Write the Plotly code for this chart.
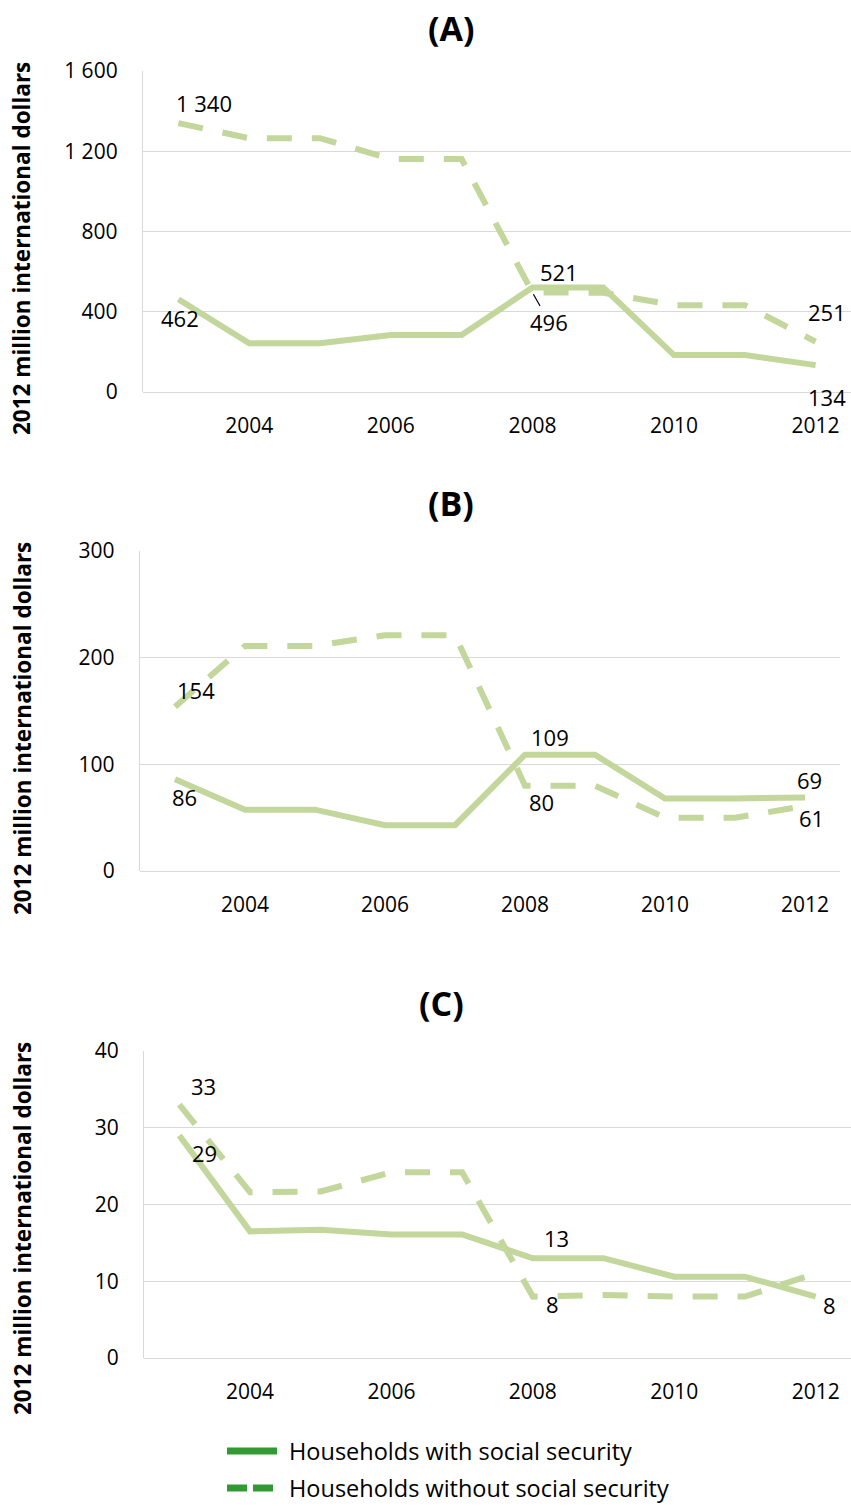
import plotly.graph_objects as go

# Years covered by every panel
years = [2003, 2004, 2005, 2006, 2007, 2008, 2009, 2010, 2011, 2012]

# (A) spending, 2012 million international dollars
a_with = [462, 243, 243, 284, 284, 521, 521, 184, 184, 134]
a_without = [1340, 1265, 1265, 1161, 1161, 496, 495, 433, 433, 251]

# (B)
b_with = [86, 57.5, 57.5, 43, 43, 109, 109, 68, 68, 69]
b_without = [154, 211, 211, 221, 221, 80, 80, 50, 50, 61]

# (C)
c_with = [29, 16.5, 16.7, 16.1, 16.1, 13, 13, 10.6, 10.6, 8]
c_without = [33, 21.6, 21.7, 24.2, 24.2, 8, 8.2, 8.0, 8.0, 11.0]

panel_titles = ["(A)", "(B)", "(C)"]
series_names = ["Households with social security", "Households without social security"]
y_title = "2012 million international dollars"
y_ranges = [[0, 1600], [0, 300], [0, 40]]
y_dticks = [400, 100, 10]
x_ticks = [2004, 2006, 2008, 2010, 2012]

# Labelled points: (panel, series, year, xshift, yshift, leader line)
labelled = [
    (0, 1, 2003, 26, 20, False), (0, 0, 2003, 2, -19, False),
    (0, 0, 2008, 27, 15, False), (0, 1, 2008, 17, -30, True),
    (0, 1, 2012, 11, 30, False), (0, 0, 2012, 11, -32, False),
    (1, 1, 2003, 21, 17, False), (1, 0, 2003, 9, -18, False),
    (1, 0, 2008, 25, 18, False), (1, 1, 2008, 16, -16, False),
    (1, 0, 2012, 4, 17, False), (1, 1, 2012, 6, -12, False),
    (2, 1, 2003, 24, 19, False), (2, 0, 2003, 25, -18, False),
    (2, 0, 2008, 24, 20, False), (2, 1, 2008, 20, -7, False),
    (2, 0, 2012, 14, -8, False),
]

W, H = 851, 1506
LINE = "#c3d69b"
KEY = "#339933"
GRID = "#d9d9d9"
FONT = "Open Sans"

# plot areas in pixels: (left, right, top, bottom)
areas = [(143, 851, 71, 392), (140, 840, 551, 871), (144, 851, 1051, 1358)]
title_pos = [(452, 28), (451, 503), (442, 1003)]
ytitle_y = [249, 729, 1229]

data = [(a_with, a_without), (b_with, b_without), (c_with, c_without)]


def fmt(v):
    return f"{v:,.0f}".replace(",", " ")


fig = go.Figure()
layout = dict(
    width=W, height=H,
    margin=dict(l=0, r=0, t=0, b=0, pad=0, autoexpand=False),
    paper_bgcolor="white", plot_bgcolor="white", showlegend=False,
    separators=". ", font=dict(family=FONT, size=21, color="black"),
)
annotations = []
shapes = []

for i, (l, r, t, b) in enumerate(areas):
    sfx = "" if i == 0 else str(i + 1)
    xa, ya = "x" + sfx, "y" + sfx
    layout["xaxis" + sfx] = dict(
        domain=[l / W, r / W], anchor=ya, range=[2002.5, 2012.5],
        tickvals=x_ticks, showgrid=False, zeroline=False, showline=False,
        ticks="", ticklabelstandoff=19, tickfont=dict(size=21, color="black"),
        automargin=False, fixedrange=True,
    )
    layout["yaxis" + sfx] = dict(
        domain=[1 - b / H, 1 - t / H], anchor=xa, range=y_ranges[i],
        dtick=y_dticks[i], tick0=0, separatethousands=True,
        showgrid=True, gridcolor=GRID, gridwidth=1.3,
        zeroline=True, zerolinecolor=GRID, zerolinewidth=1.3,
        showline=True, linecolor=GRID, linewidth=1.3,
        ticks="", ticklabelstandoff=20, tickfont=dict(size=21, color="black"),
        automargin=False, fixedrange=True,
    )
    with_vals, without_vals = data[i]
    fig.add_trace(go.Scatter(
        x=years, y=without_vals, mode="lines", name=series_names[1],
        line=dict(color=LINE, width=6, dash="25px,20px"),
        xaxis=xa, yaxis=ya, hoverinfo="skip",
    ))
    fig.add_trace(go.Scatter(
        x=years, y=with_vals, mode="lines", name=series_names[0],
        line=dict(color=LINE, width=6),
        xaxis=xa, yaxis=ya, hoverinfo="skip",
    ))
    tx, ty = title_pos[i]
    annotations.append(dict(
        text=f"<b>{panel_titles[i]}</b>", x=tx / W, y=1 - ty / H,
        xref="paper", yref="paper", showarrow=False,
        xanchor="center", yanchor="middle", font=dict(size=34, color="black"),
    ))
    annotations.append(dict(
        text=f"<b>{y_title}</b>", x=22 / W, y=1 - ytitle_y[i] / H,
        xref="paper", yref="paper", showarrow=False, textangle=-90,
        xanchor="center", yanchor="middle", font=dict(size=22.5, color="black"),
    ))

for panel, series, yr, dx, dy, leader in labelled:
    sfx = "" if panel == 0 else str(panel + 1)
    val = data[panel][series][years.index(yr)]
    ann = dict(
        text=fmt(val), x=yr, y=val, xref="x" + sfx, yref="y" + sfx,
        font=dict(size=22, color="black"),
    )
    if leader:
        ann.update(showarrow=True, arrowhead=0, arrowwidth=1.2,
                   arrowcolor="black", ax=dx, ay=-dy, standoff=2)
    else:
        ann.update(showarrow=False, xshift=dx, yshift=dy)
    annotations.append(ann)

# legend key drawn under the panels
key_rows = [(series_names[0], 1451, None), (series_names[1], 1488, "20px,6px")]
for name, ky, dash in key_rows:
    shapes.append(dict(
        type="line", xref="paper", yref="paper",
        x0=227 / W, x1=277 / W, y0=1 - ky / H, y1=1 - ky / H,
        line=dict(color=KEY, width=7, dash=dash if dash else "solid"),
    ))
    annotations.append(dict(
        text=name, x=287 / W, y=1 - ky / H, xref="paper", yref="paper",
        showarrow=False, xanchor="left", yanchor="middle",
        font=dict(size=23.5, color="black"),
    ))

layout["annotations"] = annotations
layout["shapes"] = shapes
fig.update_layout(**layout)
fig.write_html("out.html")
